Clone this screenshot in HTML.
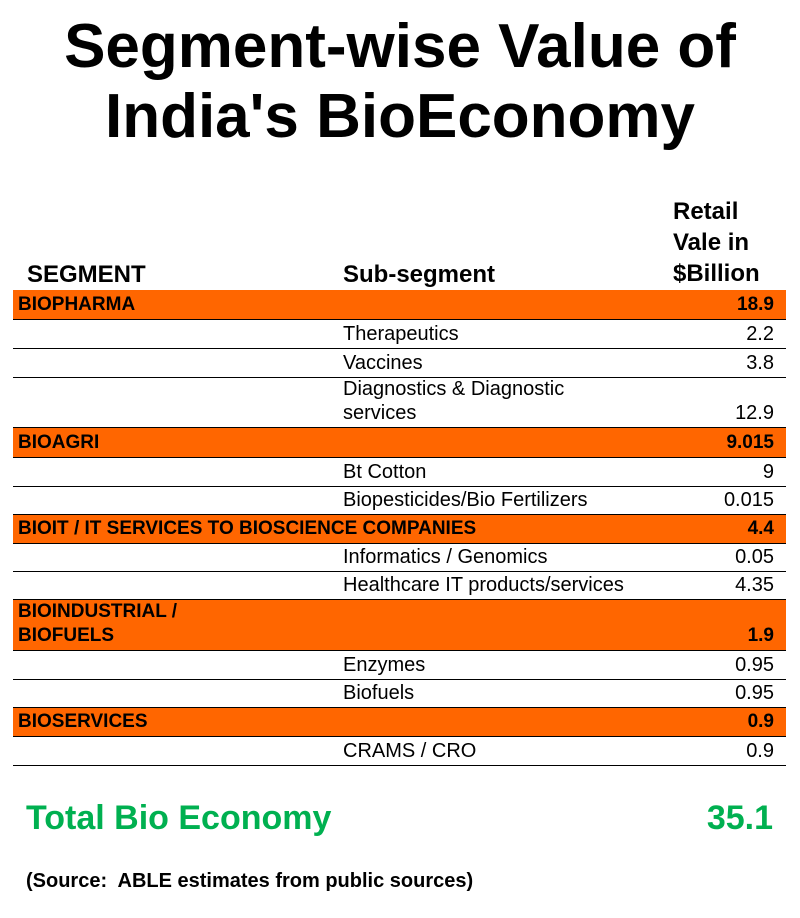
<!DOCTYPE html>
<html><head><meta charset="utf-8"><style>
body{margin:0;width:800px;height:918px;background:#fff;font-family:"Liberation Sans",Arial,sans-serif;position:relative;overflow:hidden;color:#000}
.t{position:absolute;left:0;width:800px;text-align:center;font-weight:bold;font-size:62px;line-height:70px}
.h{position:absolute;font-weight:bold;font-size:24px;line-height:31px}
.row{position:absolute;left:13px;width:773px;border-bottom:1.5px solid #000;box-sizing:border-box}
.row.o{background:#FF6600;font-weight:bold;font-size:19px}
.row.s{font-size:20px}
.c{position:absolute;bottom:2px;line-height:24px}
.c1{left:5px}.c2{left:330px}.c3{right:12px;text-align:right}
</style></head><body>
<div class="t" style="top:12px">Segment-wise Value of<br>India's BioEconomy</div>
<div class="h" style="left:27px;top:259px">SEGMENT</div>
<div class="h" style="left:343px;top:259px">Sub-segment</div>
<div class="h" style="left:673px;top:196px">Retail<br>Vale in<br>$Billion</div>

<div class="row o" style="top:290px;height:30px"><span class="c c1">BIOPHARMA</span><span class="c c3">18.9</span></div>
<div class="row s" style="top:320px;height:29px"><span class="c c2">Therapeutics</span><span class="c c3">2.2</span></div>
<div class="row s" style="top:349px;height:29px"><span class="c c2">Vaccines</span><span class="c c3">3.8</span></div>
<div class="row s" style="top:378px;height:50px"><span class="c c2">Diagnostics &amp; Diagnostic<br>services</span><span class="c c3">12.9</span></div>
<div class="row o" style="top:428px;height:30px"><span class="c c1">BIOAGRI</span><span class="c c3">9.015</span></div>
<div class="row s" style="top:458px;height:29px"><span class="c c2">Bt Cotton</span><span class="c c3">9</span></div>
<div class="row s" style="top:487px;height:28px"><span class="c c2">Biopesticides/Bio Fertilizers</span><span class="c c3">0.015</span></div>
<div class="row o" style="top:515px;height:29px"><span class="c c1">BIOIT / IT SERVICES TO BIOSCIENCE COMPANIES</span><span class="c c3">4.4</span></div>
<div class="row s" style="top:544px;height:28px"><span class="c c2">Informatics / Genomics</span><span class="c c3">0.05</span></div>
<div class="row s" style="top:572px;height:28px"><span class="c c2">Healthcare IT products/services</span><span class="c c3">4.35</span></div>
<div class="row o" style="top:600px;height:51px"><span class="c c1">BIOINDUSTRIAL /<br>BIOFUELS</span><span class="c c3">1.9</span></div>
<div class="row s" style="top:651px;height:29px"><span class="c c2">Enzymes</span><span class="c c3">0.95</span></div>
<div class="row s" style="top:680px;height:28px"><span class="c c2">Biofuels</span><span class="c c3">0.95</span></div>
<div class="row o" style="top:708px;height:29px"><span class="c c1">BIOSERVICES</span><span class="c c3">0.9</span></div>
<div class="row s" style="top:737px;height:29px"><span class="c c2">CRAMS / CRO</span><span class="c c3">0.9</span></div>

<div style="position:absolute;left:26px;top:798px;font-size:34px;font-weight:bold;color:#00B050;line-height:40px">Total Bio Economy</div>
<div style="position:absolute;right:27px;top:798px;font-size:34px;font-weight:bold;color:#00B050;line-height:40px">35.1</div>
<div style="position:absolute;left:26px;top:869px;font-size:20px;font-weight:bold;line-height:24px;white-space:pre">(Source:  ABLE estimates from public sources)</div>
</body></html>
